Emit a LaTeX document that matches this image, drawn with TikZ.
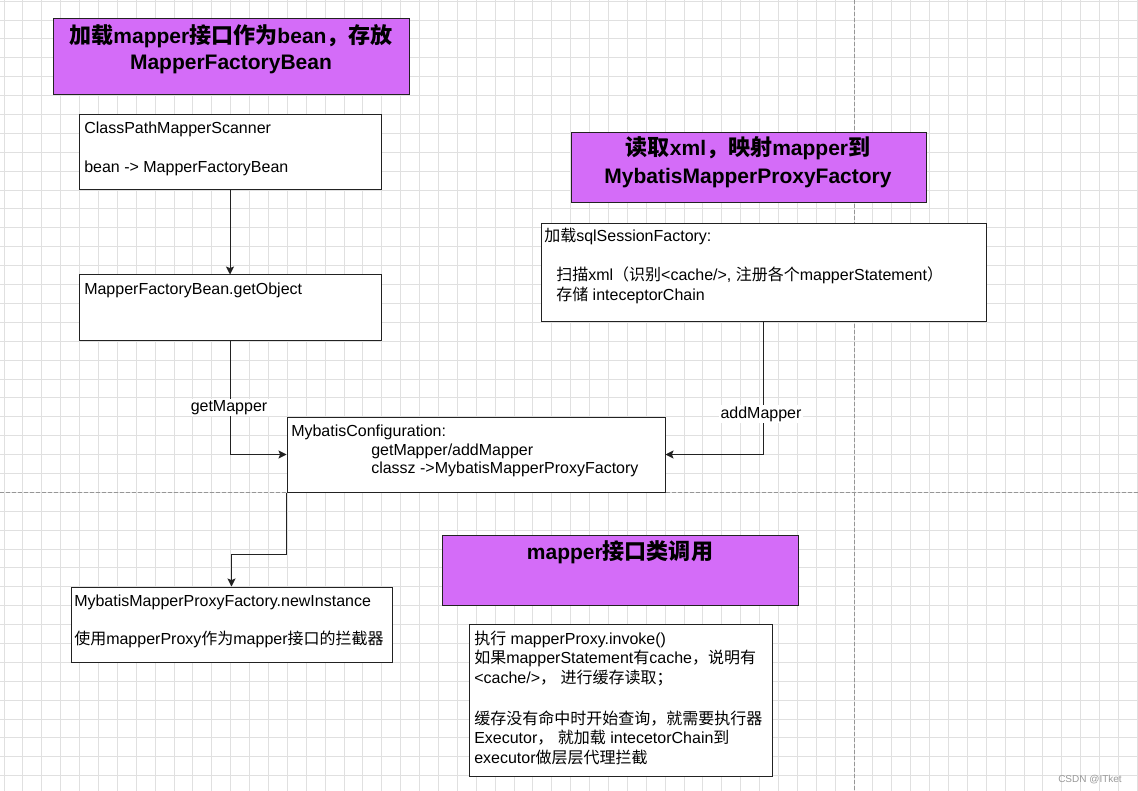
\documentclass[tikz,border=0pt]{standalone}
\usepackage{fontspec}
\setmainfont{Liberation Sans}
\newfontfamily\cjk{Noto Sans CJK SC}
\newfontfamily\cjkb{Noto Sans CJK SC}[Scale=1.05]
\newcommand\zh[1]{{\cjk #1}}
\newcommand\zb[1]{{\cjkb #1}}
\usetikzlibrary{arrows.meta,fit}
\definecolor{purp}{RGB}{212,108,248}
\definecolor{gridc}{RGB}{224,224,224}
\definecolor{pagec}{RGB}{150,150,150}
\definecolor{edgec}{RGB}{34,34,34}
\begin{document}
\begin{tikzpicture}[x=0.75pt,y=-0.75pt,
  box/.style={draw=edgec, line width=0.75pt, fill=white, inner sep=0pt},
  pbox/.style={box, fill=purp},
  txt/.style={inner sep=0pt, anchor=base west, font=\fontsize{12}{14}\selectfont},
  ttl/.style={inner sep=0pt, anchor=base, font=\fontsize{15.75}{18}\selectfont\bfseries},
  conn/.style={draw=edgec, line width=0.75pt, -{Stealth[length=6pt,width=6pt,inset=1.2pt]}},
  lbl/.style={fill=white, inner sep=1pt, anchor=base, font=\fontsize{12}{14}\selectfont}]

\fill[white] (0,0) rectangle (1138,791);
\useasboundingbox (0,0) rectangle (1138,791);
\foreach \i in {0,...,60} {\draw[gridc, line width=0.75pt] ({4+18.89*\i},0) -- ({4+18.89*\i},791);}
\foreach \i in {0,...,41} {\draw[gridc, line width=0.75pt] (0,{1.2+18.89*\i}) -- (1138,{1.2+18.89*\i});}
\draw[pagec, line width=0.75pt, dash pattern=on 3pt off 1.5pt] (854,0) -- (854,791);
\draw[pagec, line width=0.75pt, dash pattern=on 3pt off 1.5pt] (0,492) -- (1138,492);

% title boxes
\node[pbox, fit={(53,19) (409,95)}] (t1) {};
\node[ttl] (t1a) at (231,43.5) {\zb{加载}mapper\zb{接口作为}bean\zb{，存放}};
\node[ttl] (t1b) at (231,69.5) {MapperFactoryBean};

\node[pbox, fit={(571,133) (926,203)}] (t2) {};
\node[ttl] (t2a) at (748,156) {\zb{读取}xml\zb{，映射}mapper\zb{到}};
\node[ttl] (t2b) at (748,184) {MybatisMapperProxyFactory};

\node[pbox, fit={(442,535) (798,605)}] (t3) {};
\node[ttl] (t3a) at (620,559.3) {mapper\zb{接口类调用}};

% content boxes
\node[box, fit={(79,115) (381,190)}] (scanner) {};
\node[txt] (s1) at (84,134) {ClassPathMapperScanner};
\node[txt] (s2) at (84,173) {bean -> MapperFactoryBean};

\node[box, fit={(79,275) (381,341)}] (getobj) {};
\node[txt] (g1) at (84,295) {MapperFactoryBean.getObject};

\node[box, fit={(541,224) (986,322)}] (sql) {};
\node[txt] (q1) at (544,241.7) {\zh{加载}sqlSessionFactory:};
\node[txt] (q2) at (556,281) {\zh{扫描}xml\zh{（识别}<cache/>, \zh{注册各个}mapperStatement\zh{）}};
\node[txt] (q3) at (556,301) {\zh{存储} inteceptorChain};

\node[box, fit={(287,417) (665,492)}] (config) {};
\node[txt] (c1) at (291,436) {MybatisConfiguration:};
\node[txt] (c2) at (371,455) {getMapper/addMapper};
\node[txt] (c3) at (371,473.3) {classz ->MybatisMapperProxyFactory};

\node[box, fit={(71,587) (392,662)}] (newinst) {};
\node[txt] (n1) at (74,606) {MybatisMapperProxyFactory.newInstance};
\node[txt] (n2) at (74,644.3) {\zh{使用}mapperProxy\zh{作为}mapper\zh{接口的拦截器}};

\node[box, fit={(469,624) (772,776)}] (invoke) {};
\node[txt] (i1) at (474,644) {\zh{执行} mapperProxy.invoke()};
\node[txt] (i2) at (474,663.7) {\zh{如果}mapperStatement\zh{有}cache\zh{，说明有}};
\node[txt] (i3) at (474,683.3) {<cache/>\zh{，} \zh{进行缓存读取；}};
\node[txt] (i4) at (474,724.3) {\zh{缓存没有命中时开始查询，就需要执行器}};
\node[txt] (i5) at (474,743.3) {Executor\zh{，} \zh{就加载} intecetorChain\zh{到}};
\node[txt] (i6) at (474,763.3) {executor\zh{做层层代理拦截}};

% connectors
\draw[conn] (scanner) -- (getobj);
\draw[conn] (getobj.south) |- (config.west);
\draw[conn] (sql.south) |- (config.east);
\draw[conn] (config.south west) -- ++(0,62) -| (newinst.north);

\node[lbl] (lg) at (229,411.7) {getMapper};
\node[lbl] (la) at (761,418.3) {addMapper};

\node[anchor=base east, inner sep=0pt, text=black!40, font=\fontsize{7.5}{9}\selectfont] (wm) at (1122,782) {CSDN @ITket};
\end{tikzpicture}
\end{document}
